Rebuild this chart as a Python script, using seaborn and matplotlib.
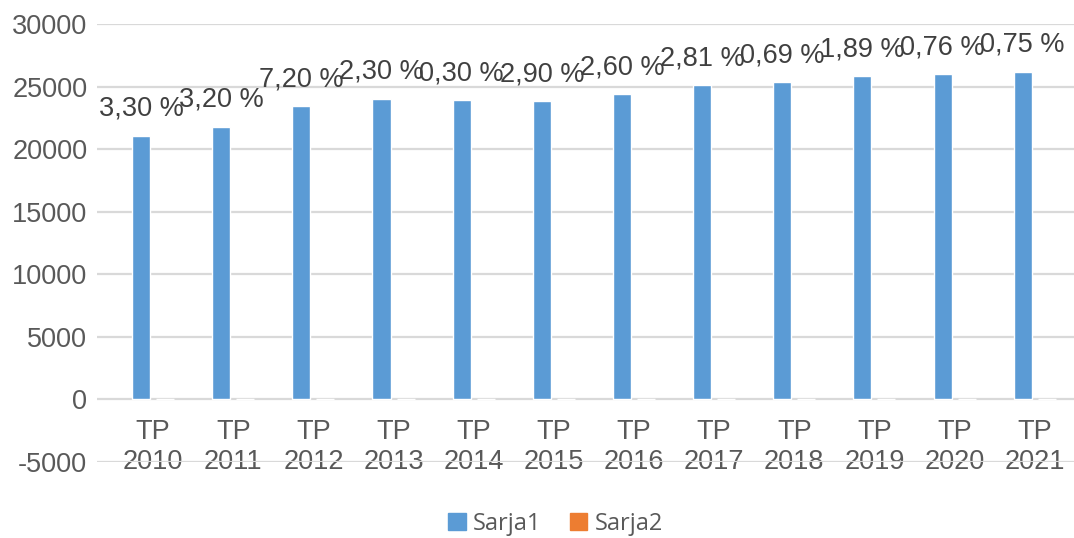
import pandas as pd
import matplotlib
matplotlib.use('Agg')
import matplotlib.pyplot as plt
import seaborn as sns
from matplotlib.patches import Patch

# data
years = ['TP\n2010', 'TP\n2011', 'TP\n2012', 'TP\n2013', 'TP\n2014', 'TP\n2015',
         'TP\n2016', 'TP\n2017', 'TP\n2018', 'TP\n2019', 'TP\n2020', 'TP\n2021']
sarja1 = [21100, 21800, 23460, 24050, 23950, 23840, 24420, 25140, 25380, 25860, 26000, 26210]
sarja2 = [3.30, 3.20, 7.20, 2.30, 0.30, 2.90, 2.60, 2.81, 0.69, 1.89, 0.76, 0.75]
pct_labels = ['3,30 %', '3,20 %', '7,20 %', '2,30 %', '0,30 %', '2,90 %',
              '2,60 %', '2,81 %', '0,69 %', '1,89 %', '0,76 %', '0,75 %']

df = pd.DataFrame({'Year': years * 2,
                   'Value': sarja1 + sarja2,
                   'Series': ['Sarja1'] * len(years) + ['Sarja2'] * len(years)})

sns.set_style('white')
plt.rcParams['font.family'] = ['Liberation Sans', 'DejaVu Sans']
plt.rcParams['axes.unicode_minus'] = False
text_col = '#595959'
grid_col = '#D9D9D9'
blue, orange = '#5B9BD5', '#ED7D31'

fig = plt.figure(figsize=(10.74, 5.38), dpi=100)
ax = fig.add_axes([0.0903, 0.1416, 0.9097, 0.8132])

sns.barplot(data=df, x='Year', y='Value', hue='Series',
            palette={'Sarja1': blue, 'Sarja2': orange}, saturation=1,
            width=0.6, gap=0.25, ax=ax, legend=False, zorder=3)

# percent labels above Sarja1 bars
ax.bar_label(ax.containers[0], labels=pct_labels, padding=10,
             fontsize=19.5, color='#404040')

ax.set_ylim(-5000, 30000)
ax.set_yticks(range(-5000, 30001, 5000))
ax.set_xlim(-0.70, 11.49)
ax.yaxis.grid(True, color=grid_col, linewidth=1.6, zorder=0)
ax.set_axisbelow(True)
for s in ax.spines.values():
    s.set_visible(False)
ax.spines['bottom'].set_position(('data', 0))
ax.tick_params(axis='x', length=0, pad=14, labelsize=19.5, labelcolor=text_col)
ax.tick_params(axis='y', length=0, pad=7, labelsize=19.5, labelcolor=text_col)
ax.set_xlabel('')
ax.set_ylabel('')

# legend at the bottom
handles = [Patch(color=blue, label='Sarja1'), Patch(color=orange, label='Sarja2')]
fig.legend(handles=handles, loc='lower center', bbox_to_anchor=(0.517, -0.035), ncol=2,
           frameon=False, handlelength=0.75, handleheight=0.75,
           handletextpad=0.3, columnspacing=1.2, labelcolor=text_col,
           prop={'family': 'Open Sans', 'size': 17})

fig.savefig('out.png', dpi=100)
